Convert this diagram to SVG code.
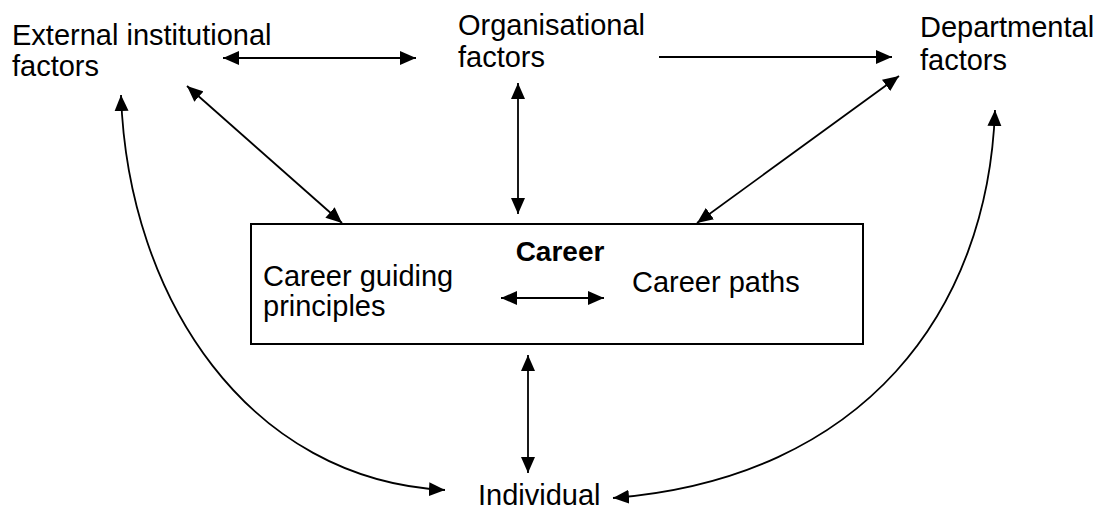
<svg xmlns="http://www.w3.org/2000/svg" width="1106" height="511" viewBox="0 0 1106 511">
  <defs>
    <style>
      .lbl { font-family: "Liberation Sans", Arial, sans-serif; font-size: 29px; fill: #000; }
      .bold { font-weight: bold; font-size: 28px; }
      .link { fill: none; stroke: #000; stroke-width: 1.8; }
    </style>
    <marker id="head" markerUnits="userSpaceOnUse" markerWidth="17" markerHeight="15" refX="16" refY="7" orient="auto-start-reverse" viewBox="0 0 17 14">
      <path d="M0,0 L16,7 L0,14 z" fill="#000"/>
    </marker>
  </defs>
  <rect width="1106" height="511" fill="#fff"/>

  <g id="external">
    <text class="lbl" x="12" y="45">External institutional</text>
    <text class="lbl" x="12" y="76">factors</text>
  </g>

  <g id="organisational">
    <text class="lbl" x="458" y="35">Organisational</text>
    <text class="lbl" x="458" y="67">factors</text>
  </g>

  <g id="departmental">
    <text class="lbl" x="920" y="37">Departmental</text>
    <text class="lbl" x="920" y="70">factors</text>
  </g>

  <g id="career">
    <rect x="251" y="224" width="612" height="120" fill="#fff" stroke="#000" stroke-width="2"/>
    <text class="lbl bold" x="560" y="261" text-anchor="middle">Career</text>
    <text class="lbl" x="263" y="286">Career guiding</text>
    <text class="lbl" x="263" y="316">principles</text>
    <text class="lbl" x="632" y="292">Career paths</text>
    <line class="link" x1="501" y1="298" x2="604" y2="298" marker-start="url(#head)" marker-end="url(#head)"/>
  </g>

  <g id="individual">
    <text class="lbl" x="478" y="505">Individual</text>
  </g>

  <g id="connectors">
    <line class="link" x1="223" y1="58" x2="416" y2="58" marker-start="url(#head)" marker-end="url(#head)"/>
    <line class="link" x1="659" y1="57" x2="892" y2="57" marker-end="url(#head)"/>
    <line class="link" x1="518" y1="83" x2="518" y2="214" marker-start="url(#head)" marker-end="url(#head)"/>
    <line class="link" x1="187" y1="86" x2="342" y2="223" marker-start="url(#head)" marker-end="url(#head)"/>
    <line class="link" x1="899" y1="76" x2="697" y2="223" marker-start="url(#head)" marker-end="url(#head)"/>
    <line class="link" x1="528" y1="355" x2="528" y2="473" marker-start="url(#head)" marker-end="url(#head)"/>
    <path class="link" d="M121,95 C128,300 250,480 445,490" marker-start="url(#head)" marker-end="url(#head)"/>
    <path class="link" d="M995,110 C988,310 865,478 613,498" marker-start="url(#head)" marker-end="url(#head)"/>
  </g>
</svg>
